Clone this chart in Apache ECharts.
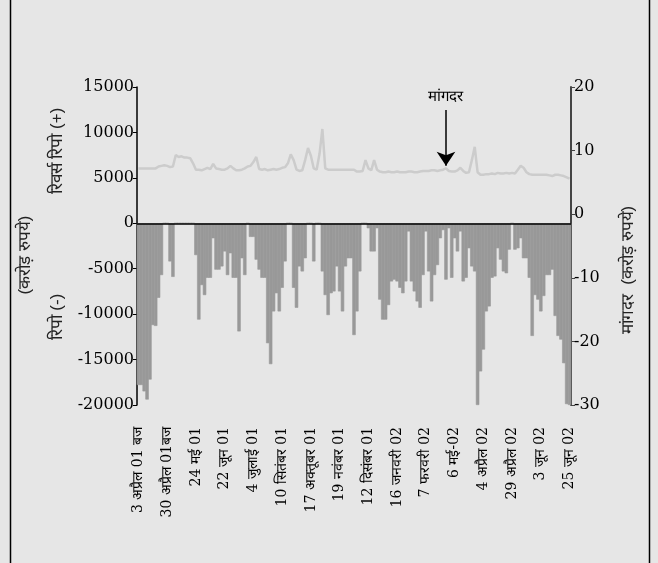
<!DOCTYPE html>
<html>
<head>
<meta charset="utf-8">
<script src="https://cdn.jsdelivr.net/npm/echarts@6/dist/echarts.min.js"></script>
<style>
  html, body { margin: 0; padding: 0; background: #e6e6e6; }
  #main { width: 658px; height: 563px; }
</style>
</head>
<body>
<div id="main"></div>
<script>
// 刻度标签（每10个类目一个）
var tickLabels = ['3 अप्रैल 01 बज', '30 अप्रैल 01बज', '24 मई 01', '22 जून 01', '4 जुलाई 01',
  '10 सितंबर 01', '17 अक्तूबर 01', '19 नवंबर 01', '12 दिसंबर 01', '16 जनवरी 02',
  '7 फरवरी 02', '6 मई-02', '4 अप्रैल 02', '29 अप्रैल 02', '3 जून 02', '25 जून 02'];

// रिपो / रिवर्स रिपो (करोड़ रुपये)
var repoValues = [
  -17800, -17800, -18500, -19400, -17200, -11200, -11300, -8200, -5700, 0,
  0, -4200, -5900, 0, 0, 0, 0, 0, 0, 0,
  -3500, -10600, -6800, -7900, -6000, -6000, -1650, -5100, -5100, -4750,
  -3100, -5700, -3300, -6000, -6000, -11900, -3850, -5700, 0, -1500,
  -1500, -4000, -5100, -6000, -6000, -13200, -15500, -9700, -7700, -9700,
  -7100, -4200, 0, 0, -7100, -9300, -4750, -5300, -3850, 0,
  0, -4200, 0, 0, -5300, -7900, -10100, -7700, -7500, -4750,
  -7500, -9700, -4750, -3850, -3850, -12300, -9700, -5300, 0, 0,
  -550, -3100, -3100, -550, -8400, -10600, -10600, -9000, -6400, -6200,
  -6400, -7100, -7700, -6400, -900, -6400, -7500, -8600, -9300, -5700,
  -900, -5300, -8600, -5700, -4600, -1650, -750, -6200, -550, -6000,
  -1650, -3100, -900, -6400, -6000, -2750, -4750, -5300, -20000, -16300,
  -13900, -9700, -9150, -6000, -5850, -2750, -4000, -5300, -5500, -2900,
  0, -2900, -2750, -1650, -3850, -3850, -6000, -12400, -7900, -8400,
  -9700, -8000, -5700, -5700, -5100, -10200, -12400, -12800, -15400, -19900,
  -20000
];

// मांगदर
var callRate = [
  7.2, 7.2, 7.2, 7.2, 7.2, 7.2, 7.2, 7.5, 7.6, 7.7,
  7.6, 7.4, 7.5, 9.3, 9.0, 9.1, 8.9, 8.9, 8.8, 8.0,
  7.0, 7.0, 6.9, 7.1, 7.3, 7.1, 7.9, 7.2, 7.1, 7.0,
  7.0, 7.2, 7.6, 7.2, 6.9, 6.9, 7.0, 7.2, 7.5, 7.6,
  8.2, 9.0, 7.1, 7.0, 7.1, 6.9, 7.0, 7.1, 7.0, 7.1,
  7.3, 7.4, 8.0, 9.4, 8.5, 7.0, 6.8, 6.9, 8.5, 10.4,
  9.2, 7.2, 7.0, 9.5, 13.4, 7.2, 7.0, 7.0, 7.0, 7.0,
  7.0, 7.0, 7.0, 7.0, 7.0, 7.0, 6.7, 6.7, 6.8, 8.5,
  7.2, 6.9, 8.5, 7.0, 6.7, 6.6, 6.6, 6.7, 6.6, 6.6,
  6.7, 6.6, 6.6, 6.6, 6.7, 6.7, 6.6, 6.6, 6.7, 6.8,
  6.8, 6.8, 6.9, 6.9, 6.8, 6.9, 7.0, 7.2, 6.8, 6.7,
  6.7, 6.9, 7.3, 6.8, 6.5, 6.6, 8.5, 10.6, 6.6, 6.2,
  6.2, 6.3, 6.3, 6.4, 6.3, 6.5, 6.4, 6.4, 6.5, 6.4,
  6.5, 6.4, 7.0, 7.6, 7.3, 6.6, 6.3, 6.2, 6.2, 6.2,
  6.2, 6.2, 6.2, 6.1, 6.0, 6.2, 6.2, 6.1, 6.0, 5.8,
  5.6
];

// 类目：每10个放一个日期
var categories = repoValues.map(function (v, i) {
  return i % 10 === 0 ? tickLabels[i / 10] : '';
});

// 箭头指向的位置
var arrowIndex = 107;
var arrowFrom = 16.4;

var myChart = echarts.init(document.getElementById('main'));

// 数字不要千分位
var numLabel = {
  margin: 3,
  fontFamily: 'DejaVu Serif',
  fontSize: 16,
  color: '#000',
  formatter: function (v) { return String(v); }
};

var option = {
  backgroundColor: '#e6e6e6',
  animation: false,
  grid: { left: 137, right: 87, top: 87, bottom: 158 },
  graphic: [
    { type: 'line', shape: { x1: 10.5, y1: 0, x2: 10.5, y2: 563 }, style: { stroke: '#000', lineWidth: 1.5 } },
    { type: 'line', shape: { x1: 649.5, y1: 0, x2: 649.5, y2: 563 }, style: { stroke: '#000', lineWidth: 1.5 } },
    { type: 'text', x: 57, y: 151, rotation: Math.PI / 2,
      style: { text: 'रिवर्स रिपो (+)', fontSize: 17, fill: '#222', align: 'center', verticalAlign: 'middle' } },
    { type: 'text', x: 57, y: 317, rotation: Math.PI / 2,
      style: { text: 'रिपो (-)', fontSize: 17, fill: '#222', align: 'center', verticalAlign: 'middle' } },
    { type: 'text', x: 25, y: 255, rotation: Math.PI / 2,
      style: { text: '(करोड़ रुपये)', fontSize: 17, fill: '#222', align: 'center', verticalAlign: 'middle' } },
    { type: 'text', x: 628, y: 270, rotation: Math.PI / 2,
      style: { text: 'मांगदर  (करोड़ रुपये)', fontSize: 17, fill: '#222', align: 'center', verticalAlign: 'middle' } }
  ],
  xAxis: {
    type: 'category',
    data: categories,
    axisLine: { show: false, onZero: false },
    axisTick: { show: false },
    axisLabel: {
      interval: 0,
      rotate: 90,
      margin: 22,
      fontSize: 14,
      fontFamily: 'DejaVu Serif',
      color: '#000'
    },
    splitLine: { show: false }
  },
  yAxis: [
    {
      type: 'value',
      min: -20000,
      max: 15000,
      interval: 5000,
      axisLine: { show: true, lineStyle: { color: '#000', width: 1.5 } },
      axisTick: { show: true, length: 4, lineStyle: { color: '#000' } },
      axisLabel: numLabel,
      splitLine: { show: false }
    },
    {
      type: 'value',
      position: 'right',
      min: -30,
      max: 20,
      interval: 10,
      axisLine: { show: true, lineStyle: { color: '#444', width: 2 } },
      axisTick: { show: true, length: 4, lineStyle: { color: '#444' } },
      axisLabel: numLabel,
      splitLine: { show: false }
    }
  ],
  series: [
    {
      name: 'रिपो',
      type: 'bar',
      data: repoValues,
      barWidth: 3.4,
      itemStyle: { color: '#999999', borderColor: '#999999', borderWidth: 0.6 },
      markLine: {
        silent: true,
        symbol: 'none',
        label: { show: false },
        lineStyle: { color: '#000', width: 1.5, type: 'solid' },
        data: [{ yAxis: 0 }]
      }
    },
    {
      name: 'मांगदर',
      type: 'line',
      yAxisIndex: 1,
      data: callRate,
      symbol: 'none',
      lineStyle: { color: '#cccccc', width: 2.5 },
      markLine: {
        silent: true,
        symbol: ['none', 'arrow'],
        symbolSize: 14,
        lineStyle: { color: '#000', width: 1.5, type: 'solid' },
        label: {
          show: true,
          position: 'start',
          formatter: 'मांगदर',
          fontSize: 15,
          color: '#000',
          distance: 6
        },
        data: [[
          { coord: [arrowIndex, arrowFrom] },
          { coord: [arrowIndex, callRate[arrowIndex] + 0.4] }
        ]]
      }
    }
  ]
};

myChart.setOption(option);
</script>
</body>
</html>
